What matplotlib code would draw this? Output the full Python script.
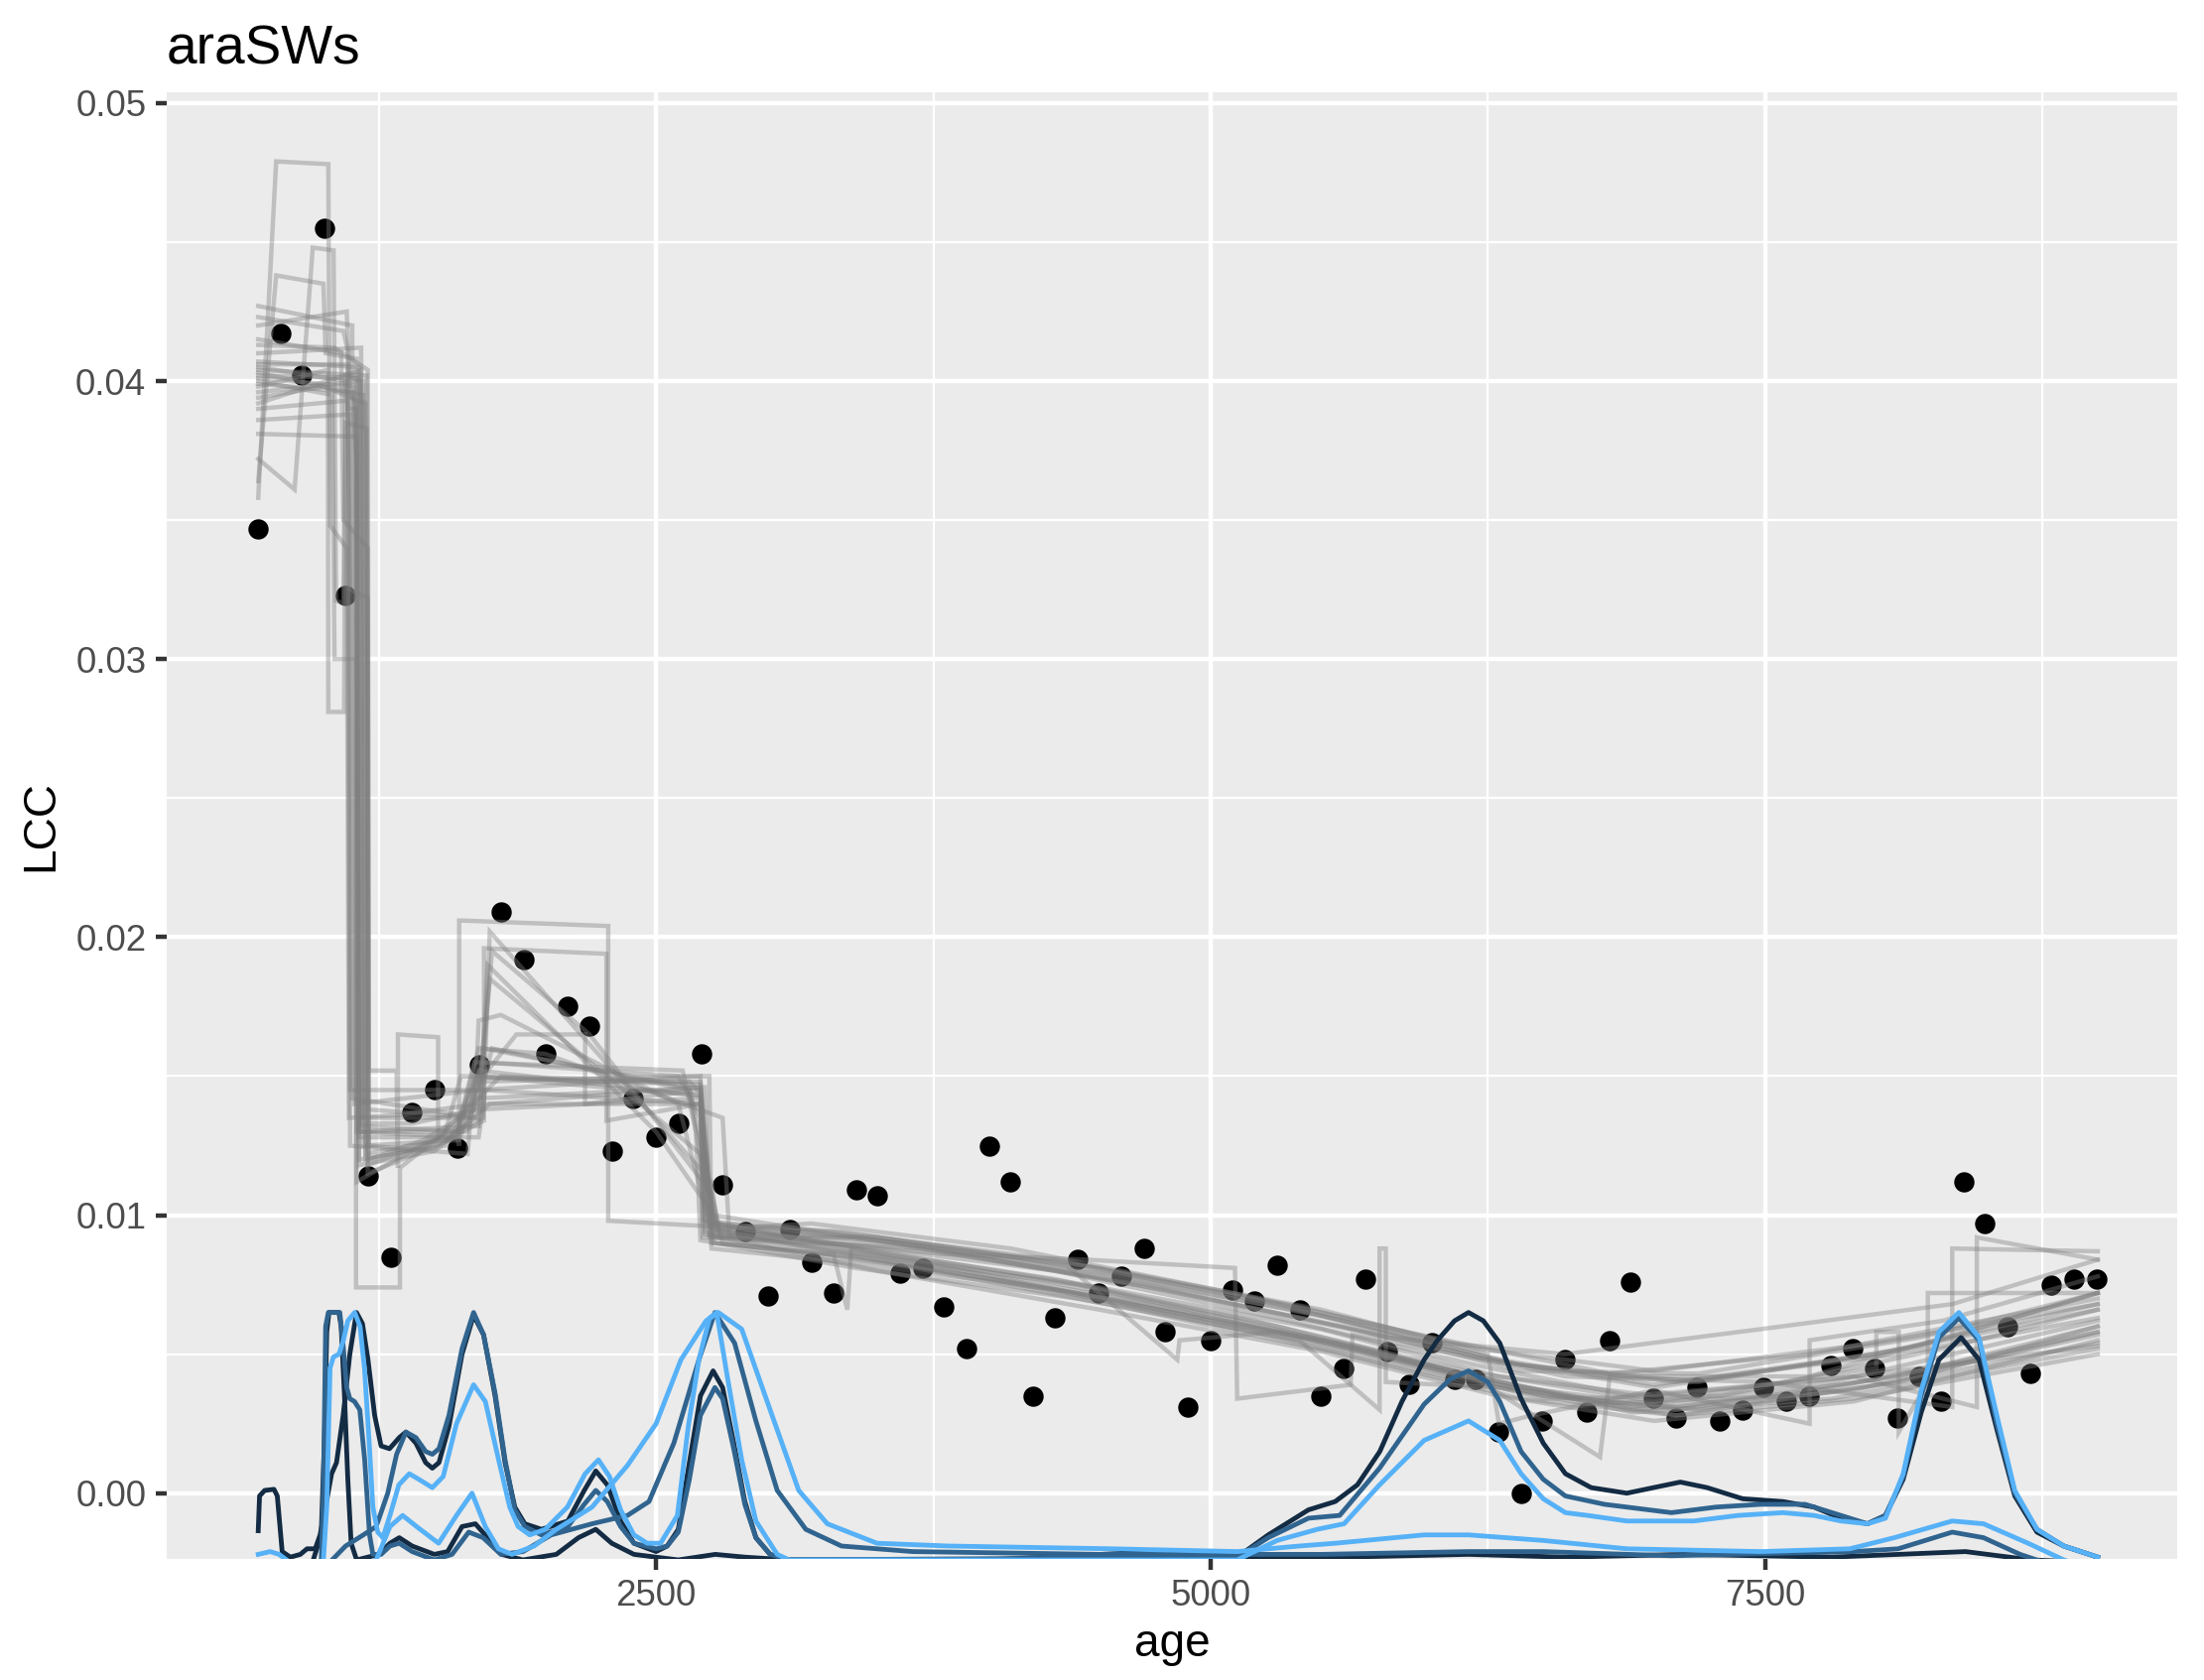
import matplotlib
matplotlib.use("Agg")
import matplotlib.pyplot as plt
from matplotlib.ticker import FixedLocator

plt.rcParams['font.family'] = ['Liberation Sans', 'DejaVu Sans']

# observed LCC values
age = [706, 808, 903, 1005, 1101, 1202, 1304, 1400, 1501, 1603, 1705, 1800, 1902,
       2004, 2099, 2201, 2303, 2398, 2500, 2602, 2704, 2799, 2901, 3003, 3104, 3200,
       3301, 3403, 3499, 3600, 3702, 3798, 3899, 4001, 4097, 4198, 4300, 4402, 4497,
       4599, 4701, 4796, 4898, 5000, 5101, 5197, 5299, 5401, 5496, 5598, 5700, 5795,
       5897, 5999, 6100, 6196, 6298, 6399, 6495, 6597, 6698, 6800, 6895, 6997, 7099,
       7194, 7296, 7398, 7493, 7595, 7697, 7799, 7894, 7996, 8098, 8193, 8295, 8397,
       8492, 8594, 8696, 8791, 8893, 8995]
lcc = [0.0347, 0.0417, 0.0402, 0.0455, 0.0323, 0.0114, 0.0085, 0.0137, 0.0145, 0.0124,
       0.0154, 0.0209, 0.0192, 0.0158, 0.0175, 0.0168, 0.0123, 0.0142, 0.0128, 0.0133,
       0.0158, 0.0111, 0.0094, 0.0071, 0.0095, 0.0083, 0.0072, 0.0109, 0.0107, 0.0079,
       0.0081, 0.0067, 0.0052, 0.0125, 0.0112, 0.0035, 0.0063, 0.0084, 0.0072, 0.0078,
       0.0088, 0.0058, 0.0031, 0.0055, 0.0073, 0.0069, 0.0082, 0.0066, 0.0035, 0.0045,
       0.0077, 0.0051, 0.0039, 0.0054, 0.0041, 0.0041, 0.0022, 0.0000, 0.0026, 0.0048,
       0.0029, 0.0055, 0.0076, 0.0034, 0.0027, 0.0038, 0.0026, 0.0030, 0.0038, 0.0033,
       0.0035, 0.0046, 0.0052, 0.0045, 0.0027, 0.0042, 0.0033, 0.0112, 0.0097, 0.0060,
       0.0043, 0.0075, 0.0077, 0.0077]

# ensemble of fitted paths (age, LCC vertices)
ens_paths = [
    [(706, .0358), (787, .0479), (1022, .0478), (1030, .0348), (1105, .0340), (1115, .0135), (1340, .0136),
     (1700, .0140), (1760, .0160), (2650, .0145), (2750, .0095), (3500, .0084), (4500, .0070), (5500, .0055),
     (6300, .0040), (6900, .0031), (7800, .0040), (9000, .0062)],
    [(706, .0364), (787, .0438), (1000, .0435), (1010, .0410), (1150, .0408), (1160, .0130), (1600, .0128),
     (1612, .0125), (1612, .0206), (2284, .0204), (2284, .0098), (2741, .0096), (3300, .0094), (4300, .0084),
     (5300, .0068), (6200, .0049), (7000, .0038), (8000, .0050), (9000, .0068)],
    [(706, .0372), (870, .0361), (952, .0448), (1046, .0447), (1057, .0321), (1090, .0320), (1100, .0402),
     (1180, .0400), (1190, .0120), (1500, .0125), (1724, .0134), (1724, .0196), (2276, .0194), (2276, .0134),
     (2700, .0140), (2760, .0092), (3600, .0082), (4600, .0067), (5600, .0050), (6400, .0034), (7100, .0028),
     (8100, .0040), (9000, .0060)],
    [(706, .0427), (1130, .0420), (1140, .0140), (1700, .0145), (1750, .0185), (2700, .0122), (2770, .0095),
     (3200, .0097), (4100, .0088), (5100, .0072), (6000, .0056), (6800, .0043), (7700, .0050), (9000, .0070)],
    [(706, .0423), (1090, .0418), (1110, .0411), (1120, .0125), (1400, .0123), (1720, .0135), (1750, .0202),
     (2750, .0112), (2780, .0093), (3400, .0086), (4400, .0075), (5400, .0057), (6200, .0042), (6900, .0030),
     (7900, .0037), (9000, .0058)],
    [(706, .0413), (1050, .0412), (1200, .0404), (1205, .0152), (1330, .0152), (1336, .0117), (1336, .0165),
     (1517, .0164), (1517, .0128), (1800, .0150), (2650, .0148), (2700, .0144), (2720, .0094), (3700, .0083),
     (4700, .0067), (5700, .0050), (6500, .0034), (7300, .0035), (8300, .0052), (9000, .0066)],
    [(706, .0407), (1160, .0405), (1170, .0130), (1650, .0130), (1700, .0148), (2600, .0150), (2740, .0150),
     (2750, .0090), (3300, .0086), (3362, .0066), (3380, .0088), (4200, .0077), (5200, .0062), (6100, .0044),
     (6900, .0029), (7800, .0034), (9000, .0052)],
    [(706, .0405), (1100, .0400), (1110, .0390), (1147, .0390), (1147, .0074), (1345, .0074), (1345, .0117),
     (1600, .0133), (1700, .0152), (2700, .0143), (2720, .0098), (3500, .0091), (4500, .0079), (5500, .0064),
     (6300, .0048), (7000, .0039), (8000, .0050), (9000, .0066)],
    [(706, .0403), (1180, .0395), (1190, .0122), (1600, .0128), (1700, .0160), (2000, .0158), (2800, .0135),
     (2830, .0093), (3800, .0086), (4438, .0084), (5110, .0081), (5120, .0034), (5632, .0039), (5640, .0057),
     (6300, .0047), (7100, .0040), (8100, .0050), (9000, .0063)],
    [(706, .0401), (1140, .0398), (1150, .0112), (1550, .0130), (1620, .0150), (2700, .0147), (2750, .0097),
     (3350, .0094), (4350, .0082), (4850, .0048), (4860, .0055), (5300, .0058), (6200, .0041), (6756, .0013),
     (6800, .0042), (7700, .0042), (9000, .0072)],
    [(706, .0394), (1000, .0398), (1190, .0392), (1200, .0138), (1700, .0135), (1760, .0195), (2200, .0165),
     (2750, .0108), (2790, .0094), (3600, .0089), (4600, .0076), (5600, .0060), (6400, .0044), (7200, .0043),
     (8200, .0056), (9000, .0072)],
    [(706, .0392), (1170, .0404), (1180, .0125), (1612, .0127), (1700, .0148), (1870, .0165), (2180, .0165),
     (2180, .0140), (2700, .0145), (2750, .0088), (3362, .0083), (4300, .0073), (5300, .0056), (6100, .0041),
     (6700, .0032), (7600, .0035), (8600, .0050), (9000, .0057)],
    [(706, .0386), (1120, .0388), (1130, .0142), (1620, .0136), (1680, .0155), (2620, .0152), (2680, .0130),
     (2700, .0091), (3400, .0081), (4400, .0070), (5400, .0055), (5762, .0030), (5762, .0088), (5790, .0088),
     (5790, .0040), (6300, .0038), (7100, .0030), (8000, .0041), (9000, .0058)],
    [(706, .0381), (1150, .0380), (1160, .0128), (1700, .0128), (1730, .0145), (2700, .0140), (2760, .0094),
     (3500, .0092), (4500, .0081), (5500, .0066), (6250, .0050), (6300, .0025), (6450, .0028), (7000, .0037),
     (7701, .0025), (7701, .0055), (8300, .0062), (9000, .0078)],
    [(706, .0420), (1105, .0425), (1120, .0395), (1150, .0392), (1160, .0118), (1500, .0123), (1750, .0140),
     (2700, .0146), (2740, .0092), (3700, .0088), (4700, .0075), (5700, .0058), (6600, .0042), (7500, .0040),
     (8344, .0031), (8344, .0088), (9000, .0087)],
    [(706, .0415), (1080, .0410), (1090, .0350), (1200, .0340), (1200, .0118), (1600, .0130), (1720, .0155),
     (2600, .0150), (2700, .0135), (2720, .0093), (3300, .0089), (4300, .0077), (5300, .0060), (6200, .0043),
     (7000, .0035), (7900, .0042), (8455, .0031), (8455, .0092), (9000, .0084)],
    [(706, .0410), (1170, .0412), (1180, .0135), (1680, .0135), (1700, .0170), (1800, .0172), (2600, .0140),
     (2730, .0100), (2760, .0100), (3800, .0087), (4800, .0073), (5800, .0056), (6596, .0050), (7480, .0059),
     (8344, .0068), (9000, .0084)],
    [(706, .0404), (1195, .0402), (1205, .0125), (1650, .0122), (1680, .0150), (2200, .0148), (2700, .0148),
     (2760, .0097), (3500, .0087), (4500, .0074), (5500, .0059), (6300, .0042), (7000, .0033), (8002, .0045),
     (8002, .0058), (8103, .0058), (8103, .0022), (8234, .0040), (8234, .0072), (9000, .0072)],
    [(706, .0399), (1130, .0396), (1150, .0370), (1160, .0120), (1550, .0125), (1700, .0145), (2700, .0150),
     (2710, .0092), (3400, .0092), (4400, .0082), (5400, .0067), (6200, .0052), (7000, .0044), (8000, .0054),
     (9000, .0068)],
    [(706, .0396), (1165, .0400), (1175, .0133), (1400, .0133), (1700, .0138), (2700, .0142), (2710, .0098),
     (3600, .0084), (4600, .0070), (5600, .0053), (6400, .0037), (7100, .0028), (7900, .0034), (9000, .0050)],
    [(706, .0406), (1110, .0406), (1120, .0145), (1700, .0145), (1720, .0160), (2650, .0146), (2780, .0095),
     (3300, .0090), (4300, .0080), (5300, .0063), (6200, .0046), (6900, .0035), (7800, .0041), (9000, .0053)],
    [(706, .0402), (1150, .0401), (1160, .0132), (1620, .0130), (1700, .0142), (2720, .0146), (2740, .0093),
     (3500, .0080), (4500, .0066), (5500, .0051), (6300, .0035), (7000, .0026), (7900, .0033), (9000, .0055)],
    [(706, .0398), (1020, .0404), (1022, .0281), (1093, .0281), (1100, .0385), (1195, .0383), (1200, .0115),
     (1600, .0128), (1690, .0150), (2700, .0143), (2740, .0096), (3600, .0090), (4600, .0078), (5600, .0062),
     (6400, .0046), (7200, .0040), (8200, .0053), (9000, .0072)],
    [(706, .0400), (1040, .0395), (1050, .0300), (1150, .0300), (1150, .0130), (1700, .0132), (1740, .0190),
     (2500, .0130), (2760, .0100), (2800, .0090), (3700, .0081), (4700, .0068), (5700, .0052), (6500, .0035),
     (7200, .0030), (8100, .0040), (9000, .0054)],
    [(706, .0390), (1110, .0393), (1120, .0325), (1200, .0322), (1205, .0120), (1450, .0127), (1720, .0140),
     (2700, .0140), (2760, .0090), (3400, .0085), (4400, .0072), (5400, .0056), (6300, .0039), (7100, .0031),
     (8100, .0042), (9000, .0060)],
]

# change-point densities, rescaled onto the LCC axis (age, value)
dens_dark_big = [
    (706, -.00135), (712, -.0001), (735, .0001), (777, .00014), (792, -.0001), (814, -.0021), (851, -.0023),
    (896, -.0022), (926, -.0020), (963, -.0020), (985, -.0015), (1007, -.0006), (1037, .0007), (1059, .0011),
    (1089, .0028), (1119, .0050), (1149, .0065), (1176, .0061), (1201, .0048), (1231, .0028), (1260, .0017),
    (1298, .0016), (1342, .0020), (1372, .0022), (1417, .0018), (1461, .0011), (1491, .0009), (1521, .0011),
    (1566, .0024), (1625, .0050), (1677, .0064), (1722, .0057), (1774, .0035), (1819, .0011), (1863, -.0005),
    (1908, -.0011), (1983, -.0013), (2102, -.0010), (2176, .0001), (2228, .0008), (2280, .0003), (2340, -.0010),
    (2400, -.0018), (2500, -.0021), (2550, -.0019), (2600, -.0013), (2650, .0011), (2700, .0035), (2757, .0044),
    (2800, .0038), (2850, .0018), (2900, -.0003), (2950, -.0016), (3014, -.0022), (3100, -.0024),
    (4000, -.0024), (5120, -.0023), (5260, -.0015), (5441, -.0006), (5562, -.0003), (5662, .0003),
    (5763, .0015), (5863, .0033), (5963, .0048), (6023, .0055), (6100, .0062), (6163, .0065), (6230, .0062),
    (6304, .0054), (6400, .0034), (6500, .0018), (6600, .0007), (6716, .0002), (6877, .0000), (6997, .0002),
    (7118, .0004), (7239, .0002), (7399, -.0002), (7580, -.0003), (7721, -.0005), (7842, -.0009),
    (7962, -.0011), (8043, -.0008), (8123, .0005), (8204, .0029), (8284, .0048), (8384, .0056), (8465, .0048),
    (8545, .0023), (8626, -.0001), (8726, -.0014), (8847, -.0019), (9000, -.0023)]
dens_dark_low = [
    (706, -.0025), (950, -.0025), (990, -.0015), (1005, .0020), (1015, .0058), (1025, .0065), (1070, .0065),
    (1080, .0060), (1095, .0035), (1110, .0005), (1125, -.0018), (1150, -.0024), (1250, -.0022),
    (1300, -.0018), (1342, -.0016), (1400, -.0019), (1500, -.0022), (1560, -.0021), (1625, -.0012),
    (1685, -.0011), (1740, -.0016), (1804, -.0022), (1900, -.0024), (2050, -.0022), (2150, -.0016),
    (2228, -.0013), (2300, -.0018), (2400, -.0022), (2600, -.0024), (2767, -.0022), (2900, -.0023),
    (3100, -.0024), (4000, -.0024), (4760, -.0021), (5100, -.0023), (5600, -.0023), (6163, -.0022),
    (6600, -.0023), (7138, -.0022), (7800, -.0023), (8404, -.0021), (8700, -.0024), (9000, -.0025)]
dens_mid_big = [
    (1027, -.0025), (1100, -.0019), (1180, -.0015), (1238, -.0012), (1290, .0000), (1330, .0014),
    (1372, .0022), (1417, .0020), (1461, .0015), (1491, .0014), (1521, .0016), (1566, .0028), (1625, .0052),
    (1677, .0065), (1722, .0057), (1774, .0036), (1819, .0012), (1863, -.0006), (1908, -.0012),
    (1983, -.0015), (2102, -.0012), (2176, -.0004), (2228, .0001), (2280, -.0003), (2340, -.0012),
    (2400, -.0018), (2500, -.0020), (2550, -.0019), (2600, -.0014), (2650, .0005), (2700, .0028),
    (2765, .0038), (2800, .0034), (2850, .0016), (2900, -.0004), (2950, -.0016), (3014, -.0022),
    (3100, -.0024), (5120, -.0023), (5260, -.0016), (5441, -.0009), (5582, -.0008), (5762, .0009),
    (5963, .0032), (6080, .0041), (6163, .0044), (6250, .0040), (6304, .0033), (6400, .0015), (6500, .0005),
    (6600, -.0001), (6776, -.0004), (7078, -.0007), (7279, -.0005), (7480, -.0004), (7681, -.0004),
    (7842, -.0008), (7962, -.0011), (8043, -.0008), (8123, .0006), (8204, .0035), (8284, .0056),
    (8374, .0063), (8465, .0055), (8545, .0025), (8626, .0000), (8726, -.0013), (8847, -.0019), (9000, -.0023)]
dens_mid_low = [
    (706, -.0025), (990, -.0025), (1000, .0000), (1010, .0060), (1022, .0065), (1074, .0065), (1090, .0052),
    (1105, .0038), (1119, .0034), (1140, .0033), (1164, .0030), (1186, .0012), (1208, -.0015),
    (1223, -.0022), (1260, -.0022), (1300, -.0019), (1342, -.0018), (1400, -.0021), (1500, -.0024),
    (1580, -.0022), (1655, -.0014), (1720, -.0016), (1800, -.0022), (1900, -.0021), (2027, -.0015),
    (2211, -.0011), (2371, -.0008), (2468, -.0003), (2580, .0018), (2693, .0048), (2765, .0065),
    (2854, .0054), (2950, .0026), (3046, .0001), (3175, -.0013), (3336, -.0019), (3657, -.0021),
    (4500, -.0022), (5500, -.0022), (6163, -.0021), (6500, -.0021), (7078, -.00225), (7900, -.0021),
    (8100, -.0020), (8344, -.0014), (8485, -.0016), (8650, -.0022), (8800, -.0026)]
dens_light_big = [
    (1000, -.0024), (1015, -.0005), (1030, .0045), (1045, .0049), (1070, .0050), (1090, .0055),
    (1110, .0062), (1141, .0065), (1165, .0060), (1185, .0045), (1205, .0020), (1223, -.0005),
    (1245, -.0014), (1268, -.0016), (1300, -.0008), (1340, .0003), (1387, .0007), (1430, .0005),
    (1491, .0002), (1540, .0006), (1600, .0025), (1677, .0039), (1730, .0033), (1790, .0012),
    (1840, -.0005), (1878, -.0012), (1930, -.0015), (2000, -.0013), (2100, -.0005), (2180, .0007),
    (2240, .0012), (2290, .0006), (2340, -.0006), (2400, -.0015), (2460, -.0018), (2520, -.0018),
    (2596, -.0008), (2645, .0024), (2693, .0048), (2741, .0063), (2773, .0065), (2821, .0042),
    (2886, .0012), (2950, -.0010), (3046, -.0022), (3100, -.0024), (5120, -.0024), (5300, -.0017),
    (5481, -.0013), (5602, -.0011), (5762, .0003), (5963, .0019), (6163, .0026), (6304, .0019),
    (6400, .0007), (6500, -.0002), (6600, -.0007), (6700, -.0008), (6877, -.0010), (7178, -.0010),
    (7379, -.0008), (7580, -.0007), (7721, -.0008), (7842, -.0010), (7962, -.0011), (8043, -.0009),
    (8123, .0007), (8204, .0037), (8284, .0058), (8374, .0065), (8465, .0056), (8545, .0028),
    (8626, .0001), (8726, -.0013), (8847, -.0019), (9000, -.0023)]
dens_light_low = [
    (706, -.0022), (760, -.0021), (800, -.0022), (850, -.0025), (1200, -.0025), (1238, -.0024),
    (1300, -.0012), (1357, -.0008), (1420, -.0012), (1519, -.0018), (1600, -.0008), (1670, .0000),
    (1730, -.0012), (1789, -.0020), (1850, -.0022), (1950, -.0019), (2050, -.0013), (2211, -.0005),
    (2371, .0010), (2500, .0025), (2612, .0048), (2725, .0062), (2781, .0065), (2886, .0059),
    (3014, .0030), (3143, .0001), (3272, -.0011), (3496, -.0018), (3818, -.0019), (4559, -.0020),
    (5120, -.0021), (5400, -.0019), (5562, -.0018), (5963, -.0015), (6163, -.0015), (6500, -.0017),
    (6877, -.0020), (7480, -.0021), (7882, -.0020), (8083, -.0016), (8344, -.0010), (8485, -.0011),
    (8686, -.0018), (8847, -.0024), (9000, -.0028)]

density_groups = [
    ('#132B43', dens_dark_low), ('#132B43', dens_dark_big),
    ('#30648F', dens_mid_low), ('#30648F', dens_mid_big),
    ('#56B1F7', dens_light_low), ('#56B1F7', dens_light_big),
]

x_major = [2500, 5000, 7500]
x_minor = [1250, 3750, 6250, 8750]
y_major = [0.00, 0.01, 0.02, 0.03, 0.04, 0.05]
y_minor = [0.005, 0.015, 0.025, 0.035, 0.045]


def main():
    fig = plt.figure(figsize=(2221 / 300, 1693 / 300), dpi=300)
    ax = fig.add_axes([0.0756, 0.0723, 0.9124, 0.873])
    ax.set_facecolor('#EBEBEB')
    for s in ax.spines.values():
        s.set_visible(False)

    ax.scatter(age, lcc, s=24, color='black', linewidths=0, zorder=2)

    for p in ens_paths:
        ax.plot([v[0] for v in p], [v[1] for v in p], color='#7F7F7F', alpha=0.4,
                lw=1.07, zorder=3, solid_joinstyle='miter')

    for col, d in density_groups:
        ax.plot([v[0] for v in d], [v[1] for v in d], color=col, lw=1.15, zorder=4)

    ax.set_xlim(293, 9360)
    ax.set_ylim(-0.00235, 0.0504)

    ax.xaxis.set_major_locator(FixedLocator(x_major))
    ax.xaxis.set_minor_locator(FixedLocator(x_minor))
    ax.yaxis.set_major_locator(FixedLocator(y_major))
    ax.yaxis.set_minor_locator(FixedLocator(y_minor))
    ax.set_xticklabels([str(v) for v in x_major])
    ax.set_yticklabels(['%.2f' % v for v in y_major])
    ax.grid(True, which='major', color='white', lw=1.07, zorder=0)
    ax.grid(True, which='minor', color='white', lw=0.53, zorder=0)
    ax.set_axisbelow(True)
    ax.tick_params(which='major', length=2.75, width=1.07, color='#333333',
                   labelsize=8.8, labelcolor='#4D4D4D', pad=2.2)
    ax.tick_params(which='minor', length=0)

    ax.set_xlabel('age', fontsize=11, labelpad=2)
    ax.set_ylabel('LCC', fontsize=11, labelpad=3)
    fig.text(0.0756, 0.962, 'araSWs', fontsize=13.2, ha='left', va='baseline')

    fig.savefig('out.png', dpi=300)


if __name__ == '__main__':
    main()
